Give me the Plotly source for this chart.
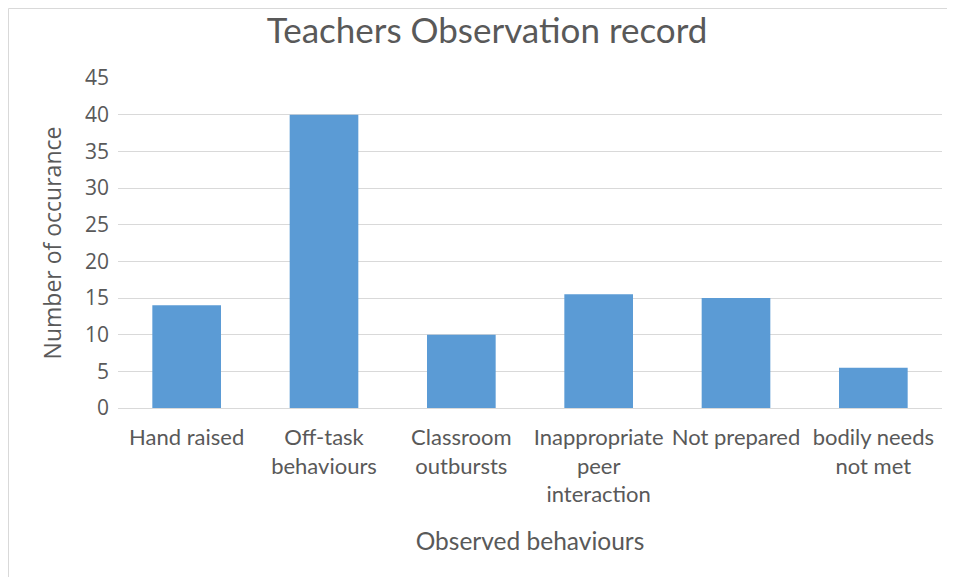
import plotly.graph_objects as go

categories = ["Hand raised", "Off-task<br>behaviours", "Classroom<br>outbursts",
              "Inappropriate<br>peer<br>interaction", "Not prepared", "bodily needs<br>not met"]
values = [14, 40, 10, 15.5, 15, 5.5]
y_ticks = [0, 5, 10, 15, 20, 25, 30, 35, 40, 45]

title_text = "Teachers Observation record"
x_title = "Observed behaviours"
y_title = "Number of occurance"

TXT = "#595959"
fig = go.Figure(go.Bar(x=categories, y=values, marker=dict(color="#5B9BD5", line=dict(width=0))))

fig.update_layout(
    width=955, height=577,
    margin=dict(l=110, r=21, t=70, b=177),
    paper_bgcolor="white", plot_bgcolor="white",
    bargap=0.5,
    showlegend=False,
    title=dict(text=title_text, x=0.5016, xanchor="center", y=0.96, yanchor="middle",
               font=dict(family="Lato", size=35, color=TXT)),
    xaxis=dict(showgrid=False, showline=False, ticks="", ticklabelstandoff=14,
               tickfont=dict(family="Lato", size=22, color=TXT),
               title=dict(text=x_title, font=dict(family="Lato", size=24.5, color=TXT), standoff=26)),
    yaxis=dict(range=[0, 45], tickvals=y_ticks, showgrid=True, gridcolor="#D9D9D9", gridwidth=1,
               zeroline=True, zerolinecolor="#D9D9D9", zerolinewidth=1,
               showline=False, ticks="", ticklabelstandoff=8,
               tickfont=dict(family="Open Sans", size=21, color=TXT),
               title=dict(text=y_title, font=dict(family="Open Sans", size=23, color=TXT), standoff=16)),
)

# chart-area border (light gray), as in the source
fig.add_shape(type="line", xref="paper", yref="paper", x0=-0.1329, x1=-0.1329, y0=-0.55, y1=1.2106,
              line=dict(color="#D9D9D9", width=1))
fig.add_shape(type="line", xref="paper", yref="paper", x0=-0.1329, x1=1.05, y0=1.2106, y1=1.2106,
              line=dict(color="#D9D9D9", width=1))

fig.write_html("out.html")
